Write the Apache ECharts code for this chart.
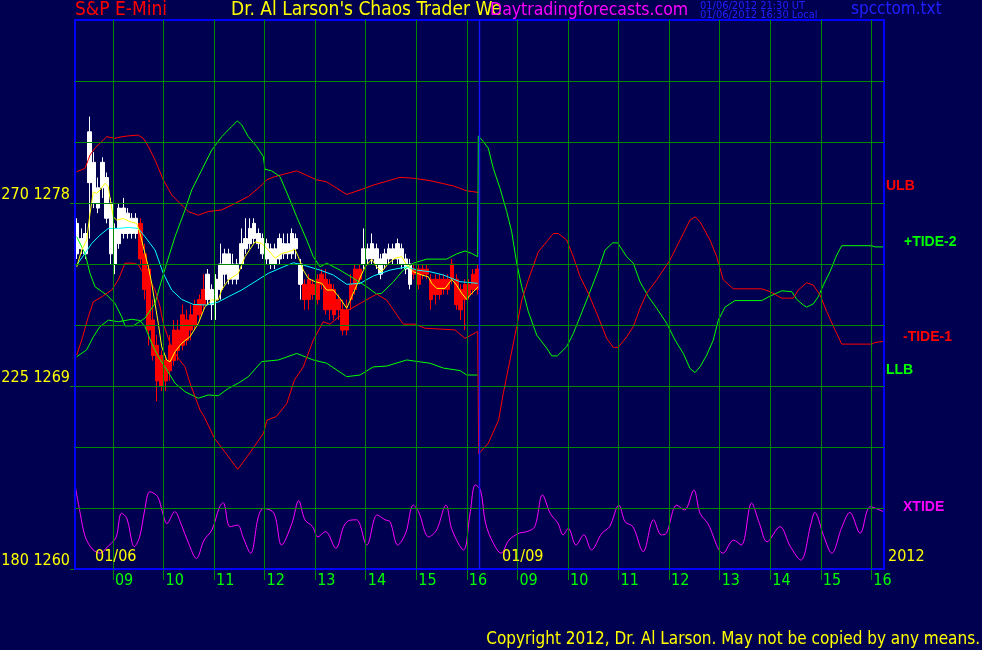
<!DOCTYPE html>
<html><head><meta charset="utf-8">
<script src="https://cdn.jsdelivr.net/npm/echarts@6/dist/echarts.min.js"></script>
<style>html,body{margin:0;padding:0;background:#000050;}#c{width:982px;height:650px;}</style>
</head><body><div id="c"></div><script>
// x unit: chart hours (09:00 day1 = 1 ... 16:00 day1 = 8; 09:00 day2 = 9 ... 16:00 day2 = 16)
const hourTicks = [1,2,3,4,5,6,7,8,9,10,11,12,13,14,15,16];
const hourLabels = ['09','10','11','12','13','14','15','16','09','10','11','12','13','14','15','16'];
const priceGrid = [1263,1266,1269,1272,1275,1278,1281,1284];
const tickPrices = [1260,1269,1278];
const tickTides = [180,225,270];
const sessionStart = 0.25;   // 08:15
const barStep = 5/60;        // 5-minute bars
const nowTime = 8.25;        // 16:15 day 1

// candles: [open, close, low, high]
const candles = [
[1275.5,1277,1275.25,1277.25],[1275.75,1276.25,1275.5,1276.75],[1275.5,1276.5,1275.25,1277],[1279,1281.5,1276.25,1282.25],
[1278,1280,1277.75,1280.5],[1277.75,1278.75,1277.5,1279.25],[1278.75,1280,1278.25,1280.25],[1277.25,1279.25,1277,1279.5],
[1275.5,1278,1275,1278.25],[1275,1276.75,1274.5,1277],[1276,1277.75,1275.75,1278],[1276.5,1277.75,1276.25,1278.25],
[1276.5,1277.5,1276.25,1277.75],[1276.5,1277.25,1276.25,1277.5],[1276.5,1277.25,1276.25,1277.5],[1277,1275.25,1275,1277.25],
[1275.5,1273.75,1273.25,1276],[1274.75,1271.75,1271,1275],[1272.25,1270.5,1270.25,1273.25],[1271,1269.25,1268.25,1271.5],
[1270.5,1269,1268.75,1270.75],[1270.25,1269.25,1268.75,1270.5],[1271,1269.75,1269.25,1271.5],[1271.75,1270.25,1270,1272.25],
[1271.75,1270.75,1270.25,1272.25],[1272.5,1271,1270.75,1273],[1272.25,1271.25,1271,1272.75],[1272.5,1271.75,1271.25,1273],
[1273,1272,1271.75,1273.25],[1273.25,1272.5,1272.25,1273.5],[1273.75,1273,1272.75,1274.5],[1273.25,1274.5,1273,1274.75],
[1273,1273.75,1272.25,1274],[1273.25,1274.25,1272.25,1274.5],[1273.75,1275,1273.25,1276],[1274.5,1275.5,1274,1275.75],
[1274.25,1275.5,1274,1275.75],[1274.25,1275,1274,1275.5],[1274.25,1275,1274,1275.25],[1275,1276,1274.75,1276.75],
[1275.75,1276.25,1275.5,1277.25],[1276,1276.75,1275.75,1277.25],[1276.25,1277,1276,1277.25],[1276,1276.5,1275.75,1276.75],
[1275.5,1276.25,1275.25,1276.5],[1275.25,1276,1275,1276.25],[1275,1275.75,1274.75,1276],[1275,1275.75,1274.75,1276],
[1275.25,1276.25,1275,1276.5],[1275.5,1276,1275.25,1276.5],[1275.5,1276,1275.25,1276.5],[1275.5,1276.5,1275.25,1276.75],
[1275.75,1276.25,1275.25,1276.5],[1274,1275,1273.25,1275.25],[1274,1273.25,1272.75,1274.25],[1274.25,1273.25,1272.75,1274.5],
[1274,1273.5,1273.25,1274.25],[1274.25,1273.25,1273,1274.5],[1274.5,1274,1273.75,1274.75],[1274.25,1272.75,1272.5,1274.75],
[1274,1272.75,1272.25,1274.25],[1273.75,1272.5,1272.25,1274],[1273.25,1272.75,1272.25,1273.5],[1272.75,1271.75,1271.5,1273.25],
[1272.75,1271.75,1271.5,1273.25],[1274,1273.25,1272.75,1274.5],[1274.75,1273.75,1273.5,1275],[1274.75,1274.25,1274,1275],
[1275,1275.75,1274.75,1276.75],[1275.25,1275.75,1275,1276],[1275.25,1276,1275,1276.5],[1275,1275.75,1274.75,1276],
[1274.5,1275.25,1274.25,1275.5],[1275,1275.5,1274.75,1275.75],[1275.25,1275.75,1275,1276],[1275.25,1275.75,1275,1276],
[1275.25,1276,1275,1276.25],[1275,1275.75,1274.75,1276],[1274.75,1275.25,1274.5,1275.5],[1274,1275,1273.75,1275.25],
[1274.75,1274.5,1274.25,1275],[1274.75,1274,1273.75,1275],[1274.75,1274.5,1274.25,1275],[1274.75,1274.5,1274.25,1275],
[1274.25,1273.25,1272.75,1274.5],[1274.25,1273.5,1273,1274.5],[1274.25,1273.5,1273.25,1274.5],[1274.25,1273.75,1273.5,1274.5],
[1274.25,1273.75,1273.5,1274.5],[1275,1274.25,1274,1275.25],[1274.25,1273,1272.75,1274.5],[1273.75,1272.75,1272.25,1274],
[1274,1273.25,1271.75,1274.25],[1274,1273.5,1273.25,1274.25],[1274.5,1273.75,1273.5,1274.75],[1274.75,1273.75,1273.5,1275]
];

// moving averages (price)
const fastMA = [[0.284,1274.86],[0.383,1275.69],[0.481,1276.18],[0.547,1277.49],[0.612,1278.55],[0.679,1278.47],[0.744,1278.64],[0.843,1278.97],[0.909,1278.8],[0.942,1278.23],[1.007,1277.32],[1.075,1277.16],[1.205,1277.24],[1.338,1277.08],[1.47,1277.0],[1.536,1276.51],[1.601,1275.85],[1.7,1274.86],[1.767,1274.05],[1.832,1273.06],[1.897,1272.08],[1.965,1270.93],[2.064,1270.28],[2.129,1270.19],[2.228,1270.68],[2.36,1271.1],[2.524,1271.42],[2.689,1272.08],[2.821,1272.9],[2.954,1273.23],[3.084,1273.23],[3.151,1273.72],[3.282,1274.21],[3.48,1274.54],[3.612,1275.36],[3.81,1276.09],[3.943,1276.01],[4.073,1275.69],[4.206,1275.28],[4.338,1275.52],[4.469,1275.6],[4.601,1275.72],[4.666,1275.36],[4.765,1274.7],[4.864,1274.29],[4.997,1274.13],[5.129,1274.05],[5.228,1273.72],[5.359,1273.72],[5.491,1273.31],[5.624,1272.82],[5.723,1273.39],[5.853,1274.13],[5.986,1274.86],[6.118,1275.23],[6.217,1274.86],[6.316,1274.62],[6.447,1275.03],[6.579,1275.28],[6.711,1275.36],[6.81,1274.95],[6.941,1274.62],[7.107,1274.46],[7.238,1274.37],[7.305,1274.05],[7.404,1273.8],[7.568,1273.8],[7.7,1274.24],[7.799,1273.96],[7.898,1273.56],[7.997,1273.26],[8.096,1273.56],[8.227,1273.88]];
const slowMA = [[0.284,1274.95],[0.448,1275.52],[0.58,1276.01],[0.744,1276.42],[0.909,1276.75],[1.106,1276.75],[1.304,1276.8],[1.502,1276.75],[1.634,1276.34],[1.832,1275.69],[1.996,1274.54],[2.162,1273.72],[2.36,1273.26],[2.59,1273.01],[2.855,1272.98],[3.084,1273.13],[3.282,1273.39],[3.547,1273.72],[3.81,1274.13],[4.073,1274.54],[4.304,1274.79],[4.568,1275.06],[4.765,1274.95],[5.096,1274.7],[5.359,1274.46],[5.624,1274.0],[5.887,1274.05],[6.15,1274.41],[6.48,1274.7],[6.81,1274.86],[7.008,1274.7],[7.271,1274.62],[7.534,1274.46],[7.864,1274.13],[8.214,1274.05]];

// tide lines (180..315 scale)
const ulb = [[0.284,277.7],[0.448,278.5],[0.547,281.8],[0.646,283.5],[0.877,286.3],[1.041,285.9],[1.174,286.3],[1.304,286.5],[1.502,286.7],[1.601,285.9],[1.7,283.9],[1.832,280.6],[1.996,275.7],[2.162,272.0],[2.293,270.3],[2.491,267.9],[2.689,267.0],[2.886,267.9],[3.151,268.3],[3.414,269.9],[3.678,271.6],[3.909,274.0],[4.041,275.7],[4.206,276.5],[4.635,277.9],[5.03,275.7],[5.228,275.2],[5.624,272.1],[5.887,273.2],[6.15,274.4],[6.678,276.3],[6.941,276.1],[7.271,275.5],[7.732,274.2],[7.997,273.0],[8.23,272.6]];
const llb = [[0.284,232.2],[0.481,233.9],[0.612,237.1],[0.744,239.6],[0.909,241.2],[1.106,240.8],[1.371,241.4],[1.536,241.1],[1.634,239.6],[1.767,235.5],[1.897,232.2],[2.03,229.7],[2.228,225.7],[2.426,223.6],[2.689,222.0],[2.886,222.8],[3.084,222.6],[3.282,224.4],[3.48,225.7],[3.678,227.3],[3.943,231.0],[4.271,231.4],[4.635,233.0],[4.963,231.4],[5.228,230.6],[5.624,227.3],[5.887,227.7],[6.15,229.7],[6.415,229.9],[6.81,231.4],[7.04,231.0],[7.271,230.6],[7.534,229.4],[7.864,228.8],[7.997,227.7],[8.214,227.7]];
const tidePlus2 = [[0.284,261.7],[0.448,257.6],[0.547,252.7],[0.646,249.4],[0.877,247.4],[1.041,245.3],[1.174,242.0],[1.239,239.8],[1.403,239.8],[1.634,241.7],[1.832,245.3],[1.965,251.1],[2.064,255.2],[2.228,261.7],[2.426,268.3],[2.558,273.2],[2.756,278.1],[2.954,283.0],[3.151,286.3],[3.349,288.8],[3.46,290.2],[3.547,289.2],[3.678,286.3],[3.844,283.9],[3.974,281.4],[4.008,278.3],[4.14,277.9],[4.304,276.5],[4.502,270.7],[4.635,266.6],[4.833,260.9],[4.963,256.8],[5.096,254.3],[5.228,255.2],[5.491,253.5],[5.754,251.5],[6.019,249.4],[6.217,247.6],[6.316,247.8],[6.545,250.6],[6.743,253.5],[6.941,255.2],[7.206,256.2],[7.601,256.2],[7.799,257.5],[7.963,258.2],[8.096,257.6],[8.214,256.8],[8.227,286.5],
[8.325,285.1],[8.424,283.5],[8.523,278.5],[8.656,273.6],[8.788,267.9],[8.887,262.9],[8.986,255.2],[9.085,249.4],[9.215,243.3],[9.382,237.5],[9.579,234.3],[9.678,232.4],[9.789,232.4],[9.975,234.7],[10.105,237.9],[10.238,242.0],[10.436,248.2],[10.6,253.5],[10.732,258.4],[10.885,260.2],[10.983,260.2],[11.161,256.8],[11.292,255.2],[11.425,250.6],[11.589,247.0],[11.755,244.1],[11.953,240.4],[12.117,236.3],[12.281,233.0],[12.413,229.3],[12.512,228.3],[12.611,229.7],[12.744,232.6],[12.874,236.3],[12.973,241.2],[13.106,244.4],[13.303,246.0],[13.831,246.0],[13.995,247.1],[14.227,248.4],[14.425,248.2],[14.524,246.3],[14.654,244.9],[14.721,244.4],[14.852,245.2],[14.951,247.0],[15.05,249.8],[15.182,253.1],[15.315,257.2],[15.414,259.5],[16.007,259.5],[16.072,259.2],[16.25,259.2]];
const tideMinus1 = [[0.284,232.6],[0.383,236.3],[0.513,242.0],[0.612,245.7],[0.778,246.9],[0.976,248.6],[1.106,251.1],[1.239,255.2],[1.403,255.2],[1.502,254.8],[1.601,252.7],[1.733,251.1],[1.832,248.6],[1.931,244.5],[1.996,240.4],[2.129,235.5],[2.293,231.8],[2.426,229.7],[2.524,225.7],[2.623,222.4],[2.722,219.1],[2.803,217.5],[3.009,212.1],[3.213,208.8],[3.468,204.5],[3.723,208.8],[3.978,213.4],[4.049,216.6],[4.233,217.5],[4.439,220.7],[4.591,226.5],[4.765,229.7],[4.963,236.3],[5.161,240.8],[5.293,240.2],[5.556,242.9],[5.887,245.3],[6.217,247.6],[6.415,246.1],[6.743,240.2],[6.974,240.2],[7.172,239.2],[7.765,238.8],[7.963,236.7],[8.214,238.4],[8.234,208.3],
[8.422,210.9],[8.628,216.6],[8.721,223.2],[8.853,231.4],[8.986,239.6],[9.085,246.1],[9.215,251.1],[9.413,258.0],[9.579,260.5],[9.71,262.5],[9.809,262.5],[9.975,260.9],[10.105,256.8],[10.238,251.9],[10.402,247.8],[10.568,242.9],[10.766,236.7],[10.896,234.5],[10.995,234.5],[11.161,237.1],[11.292,239.6],[11.425,244.1],[11.557,247.8],[11.755,251.1],[12.018,256.0],[12.281,262.5],[12.413,265.8],[12.512,266.6],[12.611,265.4],[12.809,260.9],[12.941,256.8],[13.072,251.1],[13.27,248.9],[13.831,248.9],[13.863,249.3],[13.995,248.2],[14.227,246.6],[14.456,246.6],[14.555,248.6],[14.721,250.4],[14.852,249.8],[14.984,247.4],[15.117,243.3],[15.281,238.8],[15.414,235.3],[16.007,235.3],[16.072,235.7],[16.25,236.0]];
const xtide = [[0.25,200.7],[0.353,193.7],[0.454,187.9],[0.608,184.7],[0.76,183.9],[0.863,185.1],[0.966,186.3],[1.067,187.9],[1.17,193.7],[1.273,192.5],[1.425,185.5],[1.528,187.9],[1.629,194.5],[1.731,199.0],[1.884,197.8],[1.986,193.7],[2.068,191.2],[2.222,194.1],[2.344,191.2],[2.497,186.3],[2.651,182.6],[2.803,187.1],[2.958,189.6],[3.11,195.3],[3.181,196.3],[3.316,190.4],[3.468,190.8],[3.571,187.9],[3.723,183.9],[3.877,192.9],[3.978,194.9],[4.184,193.7],[4.336,185.9],[4.54,191.2],[4.674,196.8],[4.797,192.1],[4.949,190.4],[5.052,187.9],[5.204,189.2],[5.408,185.1],[5.562,190.4],[5.665,191.9],[5.817,192.1],[6.021,185.9],[6.227,193.3],[6.381,192.1],[6.482,191.6],[6.634,185.9],[6.789,188.8],[6.941,195.7],[7.044,194.1],[7.247,187.9],[7.402,189.6],[7.586,195.7],[7.708,189.6],[7.932,184.7],[8.064,193.7],[8.167,200.7],[8.27,199.4],[8.371,191.2],[8.525,186.3],[8.677,183.9],[8.832,187.1],[9.035,188.8],[9.188,189.2],[9.342,190.4],[9.496,198.2],[9.648,193.7],[9.803,191.2],[9.904,188.4],[10.006,190.0],[10.159,185.9],[10.313,188.4],[10.465,184.7],[10.671,188.8],[10.823,190.4],[11.007,195.7],[11.13,191.6],[11.284,190.4],[11.488,184.3],[11.692,192.1],[11.846,188.4],[11.947,188.8],[12.152,195.7],[12.305,194.5],[12.489,199.4],[12.611,193.7],[12.764,191.2],[13.07,183.9],[13.276,187.1],[13.428,185.9],[13.632,196.2],[13.786,191.2],[13.938,186.7],[14.191,190.4],[14.399,185.5],[14.603,182.2],[14.807,191.2],[14.88,193.9],[15.064,187.9],[15.216,183.9],[15.42,190.4],[15.574,193.9],[15.778,188.8],[15.981,195.3],[16.238,194.1]];

const FONT = "'Liberation Sans Narrow','Arial Narrow','DejaVu Sans Condensed',sans-serif";
const BOLD = "'Liberation Sans','DejaVu Sans',sans-serif";
const GRID = '#008800';

function lineSeries(name, data, color, smooth) {
  return {name, type:'line', yAxisIndex:2, data, showSymbol:false, symbol:'none', clip:true, smooth: smooth || false,
    lineStyle:{color, width:1}, itemStyle:{color}, z:3};
}
function txt(text, x, y, color, font, align) {
  return {type:'text', x, y, z:100, style:{text, fill:color, font, align: align || 'left', verticalAlign:'top'}};
}
const hidden = () => ({axisLine:{show:false}, axisTick:{show:false}, axisLabel:{show:false}, splitLine:{show:false}});

const chart = echarts.init(document.getElementById('c'), null, {renderer:'canvas'});
chart.setOption({
  backgroundColor:'#000050',
  animation:false,
  grid:{left:75, right:98, top:20, bottom:81, containLabel:false, outerBoundsMode:'none',
    show:true, borderColor:'#0000ff', borderWidth:2, backgroundColor:'transparent', z:5},
  xAxis:[{type:'value', min:0.25, max:16.25,
    axisLine:{show:false},
    axisTick:{show:true, customValues:hourTicks, length:11, lineStyle:{color:GRID}},
    axisLabel:{customValues:hourTicks, formatter:(v)=>hourLabels[Math.round(v)-1], color:'#00ff00',
      fontFamily:FONT, fontSize:16, align:'left', margin:4, padding:[0,0,0,2]},
    splitLine:{show:false}, minorSplitLine:{show:false}}],
  yAxis:[
    {type:'value', min:1260, max:1287, position:'left', axisLine:{show:false},
      axisTick:{show:true, customValues:tickPrices, length:5, lineStyle:{color:GRID}},
      axisLabel:{customValues:tickPrices, color:'#ffff00', fontFamily:FONT, fontSize:16, verticalAlign:'bottom', margin:5,
        formatter:(v)=>{const i=tickPrices.indexOf(Math.round(v)); return tickTides[i]+' '+v;}},
      splitLine:{show:false}},
    Object.assign({type:'value', min:1260, max:1287, show:false}, hidden()),
    Object.assign({type:'value', min:180, max:315, show:false}, hidden())
  ],
  series:[
    {name:'grid', type:'line', yAxisIndex:1, data:[], silent:true, z:1,
      markLine:{silent:true, symbol:'none', label:{show:false}, animation:false,
        lineStyle:{color:GRID, width:1, type:'solid'},
        data: hourTicks.map(h=>({xAxis:h})).concat(priceGrid.map(p=>({yAxis:p})))}},
    {name:'S&P E-Mini', type:'candlestick', yAxisIndex:0,
      dimensions:['t','open','close','lowest','highest'],
      encode:{x:'t', y:['open','close','lowest','highest']},
      data:candles.map((d,i)=>[sessionStart+(i+0.5)*barStep, d[0], d[1], d[2], d[3]]),
      barWidth:4, z:2,
      itemStyle:{color:'#ffffff', color0:'#ff0000', borderColor:'#ffffff', borderColor0:'#ff0000', borderWidth:1},
      markLine:{silent:true, symbol:'none', label:{show:false}, lineStyle:{color:'#1414ff', width:1.4, type:'solid'},
        data:[{xAxis:nowTime}]}},
    lineSeries('ULB', ulb, '#ff0000'),
    lineSeries('LLB', llb, '#00ff00'),
    lineSeries('+TIDE-2', tidePlus2, '#00ff00'),
    lineSeries('-TIDE-1', tideMinus1, '#ff0000'),
    lineSeries('XTIDE', xtide, '#ff00ff', 0.35),
    {name:'slow', type:'line', yAxisIndex:0, data:slowMA, showSymbol:false, symbol:'none', lineStyle:{color:'#00ffff', width:1}, z:4},
    {name:'fast', type:'line', yAxisIndex:0, data:fastMA, showSymbol:false, symbol:'none', lineStyle:{color:'#ffff00', width:1}, z:4}
  ],
  graphic:[
    txt('S&P E-Mini', 75, 1, '#ff0000', '19px '+FONT),
    txt("Dr. Al Larson's Chaos Trader We", 231, 1, '#ffff00', '19px '+FONT),
    txt('Daytradingforecasts.com', 490, 1, '#ff00ff', '17.5px '+FONT),
    txt('01/06/2012 21:30 UT', 700, 1, '#2020ff', '11px '+FONT),
    txt('01/06/2012 16:30 Local', 700, 10, '#2020ff', '11px '+FONT),
    txt('spcctom.txt', 851, 1, '#2020ff', '17px '+FONT),
    txt('ULB', 886, 179, '#ff0000', 'bold 14px '+BOLD),
    txt('+TIDE-2', 904, 235, '#00ff00', 'bold 14px '+BOLD),
    txt('-TIDE-1', 903, 330, '#ff0000', 'bold 14px '+BOLD),
    txt('LLB', 886, 363, '#00ff00', 'bold 14px '+BOLD),
    txt('XTIDE', 903, 500, '#ff00ff', 'bold 14px '+BOLD),
    txt('01/06', 95, 549, '#ffff00', '16px '+FONT),
    txt('01/09', 502, 549, '#ffff00', '16px '+FONT),
    txt('2012', 888, 549, '#ffff00', '16px '+FONT),
    txt('Copyright 2012, Dr. Al Larson. May not be copied by any means.', 980, 631, '#ffff00', '17px '+FONT, 'right')
  ]
});
</script></body></html>
